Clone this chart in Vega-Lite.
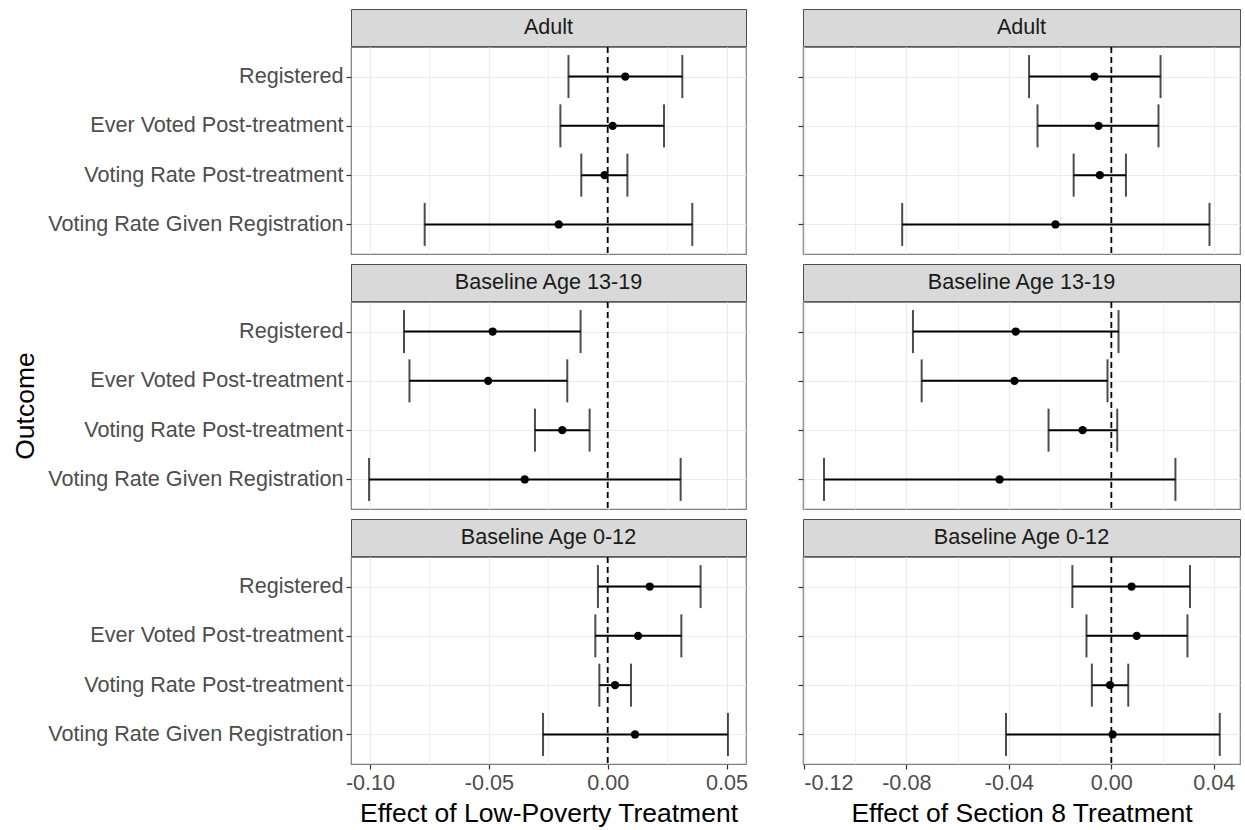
{
  "$schema": "https://vega.github.io/schema/vega-lite/v6.json",
  "padding": {"left": 12, "top": 8, "right": 5, "bottom": 3},
  "datasets": {
    "d": [
      {"t": "LP", "g": "Adult", "o": "Registered", "est": 0.0074, "lo": -0.0165, "hi": 0.0314},
      {"t": "LP", "g": "Adult", "o": "Ever Voted Post-treatment", "est": 0.0021, "lo": -0.0199, "hi": 0.0237},
      {"t": "LP", "g": "Adult", "o": "Voting Rate Post-treatment", "est": -0.0013, "lo": -0.0111, "hi": 0.0083},
      {"t": "LP", "g": "Adult", "o": "Voting Rate Given Registration", "est": -0.0206, "lo": -0.0770, "hi": 0.0356},
      {"t": "LP", "g": "Baseline Age 13-19", "o": "Registered", "est": -0.0484, "lo": -0.0857, "hi": -0.0114},
      {"t": "LP", "g": "Baseline Age 13-19", "o": "Ever Voted Post-treatment", "est": -0.0503, "lo": -0.0834, "hi": -0.0170},
      {"t": "LP", "g": "Baseline Age 13-19", "o": "Voting Rate Post-treatment", "est": -0.0191, "lo": -0.0306, "hi": -0.0076},
      {"t": "LP", "g": "Baseline Age 13-19", "o": "Voting Rate Given Registration", "est": -0.0349, "lo": -0.1004, "hi": 0.0307},
      {"t": "LP", "g": "Baseline Age 0-12", "o": "Registered", "est": 0.0177, "lo": -0.0041, "hi": 0.0391},
      {"t": "LP", "g": "Baseline Age 0-12", "o": "Ever Voted Post-treatment", "est": 0.0128, "lo": -0.0052, "hi": 0.0310},
      {"t": "LP", "g": "Baseline Age 0-12", "o": "Voting Rate Post-treatment", "est": 0.0031, "lo": -0.0035, "hi": 0.0098},
      {"t": "LP", "g": "Baseline Age 0-12", "o": "Voting Rate Given Registration", "est": 0.0115, "lo": -0.0272, "hi": 0.0506},
      {"t": "S8", "g": "Adult", "o": "Registered", "est": -0.0066, "lo": -0.0321, "hi": 0.0192},
      {"t": "S8", "g": "Adult", "o": "Ever Voted Post-treatment", "est": -0.0050, "lo": -0.0288, "hi": 0.0184},
      {"t": "S8", "g": "Adult", "o": "Voting Rate Post-treatment", "est": -0.0045, "lo": -0.0147, "hi": 0.0057},
      {"t": "S8", "g": "Adult", "o": "Voting Rate Given Registration", "est": -0.0218, "lo": -0.0816, "hi": 0.0383},
      {"t": "S8", "g": "Baseline Age 13-19", "o": "Registered", "est": -0.0373, "lo": -0.0774, "hi": 0.0028},
      {"t": "S8", "g": "Baseline Age 13-19", "o": "Ever Voted Post-treatment", "est": -0.0378, "lo": -0.0740, "hi": -0.0015},
      {"t": "S8", "g": "Baseline Age 13-19", "o": "Voting Rate Post-treatment", "est": -0.0112, "lo": -0.0245, "hi": 0.0023},
      {"t": "S8", "g": "Baseline Age 13-19", "o": "Voting Rate Given Registration", "est": -0.0436, "lo": -0.1121, "hi": 0.0250},
      {"t": "S8", "g": "Baseline Age 0-12", "o": "Registered", "est": 0.0079, "lo": -0.0152, "hi": 0.0307},
      {"t": "S8", "g": "Baseline Age 0-12", "o": "Ever Voted Post-treatment", "est": 0.0099, "lo": -0.0097, "hi": 0.0297},
      {"t": "S8", "g": "Baseline Age 0-12", "o": "Voting Rate Post-treatment", "est": -0.0005, "lo": -0.0076, "hi": 0.0066},
      {"t": "S8", "g": "Baseline Age 0-12", "o": "Voting Rate Given Registration", "est": 0.0005, "lo": -0.0411, "hi": 0.0423}
    ]
  },
  "spacing": 47,
  "hconcat": [
    {
      "spacing": 7,
      "vconcat": [
        {
          "spacing": -3,
          "vconcat": [
            {"width": 395, "height": 37, "data": {"values": [{"g": "Adult"}]}, "view": {"fill": "#d9d9d9", "stroke": "#4d4d4d"}, "mark": {"type": "text", "fontSize": 21.6, "color": "#1a1a1a"}, "encoding": {"text": {"field": "g", "type": "nominal"}}},
            {
              "width": 395, "height": 207,
              "data": {"name": "d"},
              "transform": [{"filter": "datum.t === 'LP' && datum.g === 'Adult'"}],
              "layer": [
                {"mark": {"type": "rule", "strokeWidth": 2, "color": "black"}, "encoding": {
                  "x": {"field": "lo", "type": "quantitative", "scale": {"domain": [-0.108, 0.0582], "nice": false, "zero": false}, "axis": {"values": [-0.1, -0.075, -0.05, -0.025, 0, 0.025, 0.05], "labels": false, "ticks": false, "title": null, "gridWidth": {"condition": {"test": "abs(datum.value*20 - round(datum.value*20)) < 0.001", "value": 1.2}, "value": 0.7}}},
                  "x2": {"field": "hi"},
                  "y": {"field": "o", "type": "nominal", "scale": {"type": "point", "padding": 0.6, "domain": ["Registered", "Ever Voted Post-treatment", "Voting Rate Post-treatment", "Voting Rate Given Registration"]}, "axis": {"title": null, "grid": true}}}},
                {"mark": {"type": "tick", "size": 43, "thickness": 2, "color": "black"}, "encoding": {"x": {"field": "lo", "type": "quantitative"}, "y": {"field": "o", "type": "nominal"}}},
                {"mark": {"type": "tick", "size": 43, "thickness": 2, "color": "black"}, "encoding": {"x": {"field": "hi", "type": "quantitative"}, "y": {"field": "o", "type": "nominal"}}},
                {"mark": {"type": "circle", "size": 70, "color": "black", "opacity": 1}, "encoding": {"x": {"field": "est", "type": "quantitative"}, "y": {"field": "o", "type": "nominal"}}},
                {"data": {"values": [{"v": 0}]}, "mark": {"type": "rule", "strokeDash": [6, 4], "strokeWidth": 1.8, "color": "black"}, "encoding": {"x": {"field": "v", "type": "quantitative"}}}
              ]
            }
          ]
        },
        {
          "spacing": -3,
          "vconcat": [
            {"width": 395, "height": 37, "data": {"values": [{"g": "Baseline Age 13-19"}]}, "view": {"fill": "#d9d9d9", "stroke": "#4d4d4d"}, "mark": {"type": "text", "fontSize": 21.6, "color": "#1a1a1a"}, "encoding": {"text": {"field": "g", "type": "nominal"}}},
            {
              "width": 395, "height": 207,
              "data": {"name": "d"},
              "transform": [{"filter": "datum.t === 'LP' && datum.g === 'Baseline Age 13-19'"}],
              "layer": [
                {"mark": {"type": "rule", "strokeWidth": 2, "color": "black"}, "encoding": {
                  "x": {"field": "lo", "type": "quantitative", "scale": {"domain": [-0.108, 0.0582], "nice": false, "zero": false}, "axis": {"values": [-0.1, -0.075, -0.05, -0.025, 0, 0.025, 0.05], "labels": false, "ticks": false, "title": null, "gridWidth": {"condition": {"test": "abs(datum.value*20 - round(datum.value*20)) < 0.001", "value": 1.2}, "value": 0.7}}},
                  "x2": {"field": "hi"},
                  "y": {"field": "o", "type": "nominal", "scale": {"type": "point", "padding": 0.6, "domain": ["Registered", "Ever Voted Post-treatment", "Voting Rate Post-treatment", "Voting Rate Given Registration"]}, "axis": {"title": "Outcome", "titlePadding": 8, "grid": true}}}},
                {"mark": {"type": "tick", "size": 43, "thickness": 2, "color": "black"}, "encoding": {"x": {"field": "lo", "type": "quantitative"}, "y": {"field": "o", "type": "nominal"}}},
                {"mark": {"type": "tick", "size": 43, "thickness": 2, "color": "black"}, "encoding": {"x": {"field": "hi", "type": "quantitative"}, "y": {"field": "o", "type": "nominal"}}},
                {"mark": {"type": "circle", "size": 70, "color": "black", "opacity": 1}, "encoding": {"x": {"field": "est", "type": "quantitative"}, "y": {"field": "o", "type": "nominal"}}},
                {"data": {"values": [{"v": 0}]}, "mark": {"type": "rule", "strokeDash": [6, 4], "strokeWidth": 1.8, "color": "black"}, "encoding": {"x": {"field": "v", "type": "quantitative"}}}
              ]
            }
          ]
        },
        {
          "spacing": -3,
          "vconcat": [
            {"width": 395, "height": 37, "data": {"values": [{"g": "Baseline Age 0-12"}]}, "view": {"fill": "#d9d9d9", "stroke": "#4d4d4d"}, "mark": {"type": "text", "fontSize": 21.6, "color": "#1a1a1a"}, "encoding": {"text": {"field": "g", "type": "nominal"}}},
            {
              "width": 395, "height": 207,
              "data": {"name": "d"},
              "transform": [{"filter": "datum.t === 'LP' && datum.g === 'Baseline Age 0-12'"}],
              "layer": [
                {"mark": {"type": "rule", "strokeWidth": 2, "color": "black"}, "encoding": {
                  "x": {"field": "lo", "type": "quantitative", "scale": {"domain": [-0.108, 0.0582], "nice": false, "zero": false}, "axis": {"values": [-0.1, -0.075, -0.05, -0.025, 0, 0.025, 0.05], "title": "Effect of Low-Poverty Treatment", "labelExpr": "abs(datum.value*20 - round(datum.value*20)) < 0.001 ? replace(format(datum.value, '.2f'), '\u2212', '-') : ''", "tickOpacity": {"condition": {"test": "abs(datum.value*20 - round(datum.value*20)) < 0.001", "value": 1}, "value": 0}, "gridWidth": {"condition": {"test": "abs(datum.value*20 - round(datum.value*20)) < 0.001", "value": 1.2}, "value": 0.7}}},
                  "x2": {"field": "hi"},
                  "y": {"field": "o", "type": "nominal", "scale": {"type": "point", "padding": 0.6, "domain": ["Registered", "Ever Voted Post-treatment", "Voting Rate Post-treatment", "Voting Rate Given Registration"]}, "axis": {"title": null, "grid": true}}}},
                {"mark": {"type": "tick", "size": 43, "thickness": 2, "color": "black"}, "encoding": {"x": {"field": "lo", "type": "quantitative"}, "y": {"field": "o", "type": "nominal"}}},
                {"mark": {"type": "tick", "size": 43, "thickness": 2, "color": "black"}, "encoding": {"x": {"field": "hi", "type": "quantitative"}, "y": {"field": "o", "type": "nominal"}}},
                {"mark": {"type": "circle", "size": 70, "color": "black", "opacity": 1}, "encoding": {"x": {"field": "est", "type": "quantitative"}, "y": {"field": "o", "type": "nominal"}}},
                {"data": {"values": [{"v": 0}]}, "mark": {"type": "rule", "strokeDash": [6, 4], "strokeWidth": 1.8, "color": "black"}, "encoding": {"x": {"field": "v", "type": "quantitative"}}}
              ]
            }
          ]
        }
      ]
    },
    {
      "spacing": 7,
      "vconcat": [
        {
          "spacing": -3,
          "vconcat": [
            {"width": 437, "height": 37, "data": {"values": [{"g": "Adult"}]}, "view": {"fill": "#d9d9d9", "stroke": "#4d4d4d"}, "mark": {"type": "text", "fontSize": 21.6, "color": "#1a1a1a"}, "encoding": {"text": {"field": "g", "type": "nominal"}}},
            {
              "width": 437, "height": 207,
              "data": {"name": "d"},
              "transform": [{"filter": "datum.t === 'S8' && datum.g === 'Adult'"}],
              "layer": [
                {"mark": {"type": "rule", "strokeWidth": 2, "color": "black"}, "encoding": {
                  "x": {"field": "lo", "type": "quantitative", "scale": {"domain": [-0.1203, 0.0502], "nice": false, "zero": false}, "axis": {"values": [-0.12, -0.1, -0.08, -0.06, -0.04, -0.02, 0, 0.02, 0.04], "labels": false, "ticks": false, "title": null, "gridWidth": {"condition": {"test": "abs(datum.value*25 - round(datum.value*25)) < 0.001", "value": 1.2}, "value": 0.7}}},
                  "x2": {"field": "hi"},
                  "y": {"field": "o", "type": "nominal", "scale": {"type": "point", "padding": 0.6, "domain": ["Registered", "Ever Voted Post-treatment", "Voting Rate Post-treatment", "Voting Rate Given Registration"]}, "axis": {"title": null, "labels": false, "grid": true}}}},
                {"mark": {"type": "tick", "size": 43, "thickness": 2, "color": "black"}, "encoding": {"x": {"field": "lo", "type": "quantitative"}, "y": {"field": "o", "type": "nominal"}}},
                {"mark": {"type": "tick", "size": 43, "thickness": 2, "color": "black"}, "encoding": {"x": {"field": "hi", "type": "quantitative"}, "y": {"field": "o", "type": "nominal"}}},
                {"mark": {"type": "circle", "size": 70, "color": "black", "opacity": 1}, "encoding": {"x": {"field": "est", "type": "quantitative"}, "y": {"field": "o", "type": "nominal"}}},
                {"data": {"values": [{"v": 0}]}, "mark": {"type": "rule", "strokeDash": [6, 4], "strokeWidth": 1.8, "color": "black"}, "encoding": {"x": {"field": "v", "type": "quantitative"}}}
              ]
            }
          ]
        },
        {
          "spacing": -3,
          "vconcat": [
            {"width": 437, "height": 37, "data": {"values": [{"g": "Baseline Age 13-19"}]}, "view": {"fill": "#d9d9d9", "stroke": "#4d4d4d"}, "mark": {"type": "text", "fontSize": 21.6, "color": "#1a1a1a"}, "encoding": {"text": {"field": "g", "type": "nominal"}}},
            {
              "width": 437, "height": 207,
              "data": {"name": "d"},
              "transform": [{"filter": "datum.t === 'S8' && datum.g === 'Baseline Age 13-19'"}],
              "layer": [
                {"mark": {"type": "rule", "strokeWidth": 2, "color": "black"}, "encoding": {
                  "x": {"field": "lo", "type": "quantitative", "scale": {"domain": [-0.1203, 0.0502], "nice": false, "zero": false}, "axis": {"values": [-0.12, -0.1, -0.08, -0.06, -0.04, -0.02, 0, 0.02, 0.04], "labels": false, "ticks": false, "title": null, "gridWidth": {"condition": {"test": "abs(datum.value*25 - round(datum.value*25)) < 0.001", "value": 1.2}, "value": 0.7}}},
                  "x2": {"field": "hi"},
                  "y": {"field": "o", "type": "nominal", "scale": {"type": "point", "padding": 0.6, "domain": ["Registered", "Ever Voted Post-treatment", "Voting Rate Post-treatment", "Voting Rate Given Registration"]}, "axis": {"title": null, "labels": false, "grid": true}}}},
                {"mark": {"type": "tick", "size": 43, "thickness": 2, "color": "black"}, "encoding": {"x": {"field": "lo", "type": "quantitative"}, "y": {"field": "o", "type": "nominal"}}},
                {"mark": {"type": "tick", "size": 43, "thickness": 2, "color": "black"}, "encoding": {"x": {"field": "hi", "type": "quantitative"}, "y": {"field": "o", "type": "nominal"}}},
                {"mark": {"type": "circle", "size": 70, "color": "black", "opacity": 1}, "encoding": {"x": {"field": "est", "type": "quantitative"}, "y": {"field": "o", "type": "nominal"}}},
                {"data": {"values": [{"v": 0}]}, "mark": {"type": "rule", "strokeDash": [6, 4], "strokeWidth": 1.8, "color": "black"}, "encoding": {"x": {"field": "v", "type": "quantitative"}}}
              ]
            }
          ]
        },
        {
          "spacing": -3,
          "vconcat": [
            {"width": 437, "height": 37, "data": {"values": [{"g": "Baseline Age 0-12"}]}, "view": {"fill": "#d9d9d9", "stroke": "#4d4d4d"}, "mark": {"type": "text", "fontSize": 21.6, "color": "#1a1a1a"}, "encoding": {"text": {"field": "g", "type": "nominal"}}},
            {
              "width": 437, "height": 207,
              "data": {"name": "d"},
              "transform": [{"filter": "datum.t === 'S8' && datum.g === 'Baseline Age 0-12'"}],
              "layer": [
                {"mark": {"type": "rule", "strokeWidth": 2, "color": "black"}, "encoding": {
                  "x": {"field": "lo", "type": "quantitative", "scale": {"domain": [-0.1203, 0.0502], "nice": false, "zero": false}, "axis": {"values": [-0.12, -0.1, -0.08, -0.06, -0.04, -0.02, 0, 0.02, 0.04], "title": "Effect of Section 8 Treatment", "labelExpr": "abs(datum.value*25 - round(datum.value*25)) < 0.001 ? replace(format(datum.value, '.2f'), '\u2212', '-') : ''", "tickOpacity": {"condition": {"test": "abs(datum.value*25 - round(datum.value*25)) < 0.001", "value": 1}, "value": 0}, "gridWidth": {"condition": {"test": "abs(datum.value*25 - round(datum.value*25)) < 0.001", "value": 1.2}, "value": 0.7}}},
                  "x2": {"field": "hi"},
                  "y": {"field": "o", "type": "nominal", "scale": {"type": "point", "padding": 0.6, "domain": ["Registered", "Ever Voted Post-treatment", "Voting Rate Post-treatment", "Voting Rate Given Registration"]}, "axis": {"title": null, "labels": false, "grid": true}}}},
                {"mark": {"type": "tick", "size": 43, "thickness": 2, "color": "black"}, "encoding": {"x": {"field": "lo", "type": "quantitative"}, "y": {"field": "o", "type": "nominal"}}},
                {"mark": {"type": "tick", "size": 43, "thickness": 2, "color": "black"}, "encoding": {"x": {"field": "hi", "type": "quantitative"}, "y": {"field": "o", "type": "nominal"}}},
                {"mark": {"type": "circle", "size": 70, "color": "black", "opacity": 1}, "encoding": {"x": {"field": "est", "type": "quantitative"}, "y": {"field": "o", "type": "nominal"}}},
                {"data": {"values": [{"v": 0}]}, "mark": {"type": "rule", "strokeDash": [6, 4], "strokeWidth": 1.8, "color": "black"}, "encoding": {"x": {"field": "v", "type": "quantitative"}}}
              ]
            }
          ]
        }
      ]
    }
  ],
  "config": {
    "font": "Liberation Sans",
    "view": {"stroke": "#7f7f7f", "strokeWidth": 1.2},
    "axis": {
      "gridColor": "#ebebeb",
      "gridWidth": 1.2,
      "domain": false,
      "tickColor": "#333333",
      "tickSize": 5,
      "tickWidth": 1.2,
      "labelColor": "#4d4d4d",
      "labelFontSize": 21.6,
      "labelPadding": 3,
      "labelLimit": 500,
      "maxExtent": 500,
      "titleFontSize": 26.5,
      "titleColor": "#000000",
      "titleFontWeight": "normal",
      "titlePadding": 7
    }
  }
}
